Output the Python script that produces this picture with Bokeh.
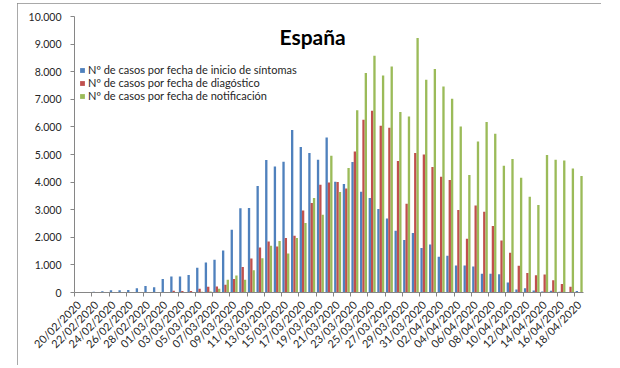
import math
from bokeh.plotting import figure
from bokeh.models import (ColumnDataSource, FixedTicker, Legend, LegendItem, Label, Range1d)
from bokeh.transform import dodge
from bokeh.embed import file_html
from bokeh.resources import INLINE

fechas = [
    "20/02/2020", "21/02/2020", "22/02/2020", "23/02/2020", "24/02/2020", "25/02/2020",
    "26/02/2020", "27/02/2020", "28/02/2020", "29/02/2020",
    "01/03/2020", "02/03/2020", "03/03/2020", "04/03/2020", "05/03/2020", "06/03/2020",
    "07/03/2020", "08/03/2020", "09/03/2020", "10/03/2020", "11/03/2020", "12/03/2020",
    "13/03/2020", "14/03/2020", "15/03/2020", "16/03/2020", "17/03/2020", "18/03/2020",
    "19/03/2020", "20/03/2020", "21/03/2020", "22/03/2020", "23/03/2020", "24/03/2020",
    "25/03/2020", "26/03/2020", "27/03/2020", "28/03/2020", "29/03/2020", "30/03/2020",
    "31/03/2020",
    "01/04/2020", "02/04/2020", "03/04/2020", "04/04/2020", "05/04/2020", "06/04/2020",
    "07/04/2020", "08/04/2020", "09/04/2020", "10/04/2020", "11/04/2020", "12/04/2020",
    "13/04/2020", "14/04/2020", "15/04/2020", "16/04/2020", "17/04/2020", "18/04/2020",
]

sintomas = [3, 10, 30, 45, 80, 80, 90, 150, 240, 190,
            485, 580, 580, 630, 895, 1087, 1190, 1520, 2272, 3050,
            3060, 3860, 4800, 4565, 4735, 5884, 5268, 5051, 4808, 5616,
            4011, 3928, 4724, 3649, 3420, 3022, 2681, 2240, 1898, 2152,
            1609, 1739, 1293, 1330, 978, 978, 942, 680, 680, 660,
            362, 110, 150, 72, 36, 60, 25, 15, 50]

diagnostico = [0, 0, 0, 0, 0, 0, 2, 3, 8, 5,
               5, 60, 50, 50, 134, 206, 218, 279, 485, 920,
               1232, 1630, 1845, 1667, 1971, 2054, 2971, 3239, 3902, 3986,
               4000, 3768, 5109, 6257, 6583, 6040, 5967, 4761, 3214, 5051,
               5000, 4543, 4192, 4072, 2986, 1946, 3150, 2930, 2406, 1884,
               1438, 967, 710, 625, 655, 440, 310, 207, 20]

notificacion = [0, 0, 0, 0, 0, 0, 0, 0, 0, 0,
                0, 5, 10, 10, 30, 40, 140, 465, 620, 465,
                810, 1240, 1692, 1868, 1414, 1976, 2514, 3420, 2815, 4953,
                3645, 4507, 6600, 7949, 8576, 7862, 8188, 6536, 6377, 9217,
                7707, 8094, 7464, 7018, 6015, 4260, 5471, 6174, 5750, 4591,
                4833, 4156, 3467, 3167, 4978, 4808, 4783, 4493, 4217]

series_names = ["Nº de casos por fecha de inicio de síntomas",
                "Nº de casos por fecha de diagóstico",
                "Nº de casos por fecha de notificación"]
colores = ["#4F81BD", "#C0504D", "#9BBB59"]

y_ticks = [0, 1000, 2000, 3000, 4000, 5000, 6000, 7000, 8000, 9000, 10000]
y_labels = ["0", "1.000", "2.000", "3.000", "4.000", "5.000", "6.000",
            "7.000", "8.000", "9.000", "10.000"]
titulo = "España"

n = len(fechas)
idx = list(range(n))
src = ColumnDataSource(dict(x=[i + 0.5 for i in idx], s=sintomas,
                            d=diagnostico, nt=notificacion))

p = figure(width=584, height=362, x_range=Range1d(0, n), y_range=Range1d(0, 10000),
           output_backend="svg", toolbar_location=None, title=None,
           min_border_left=57, min_border_right=18, min_border_top=13,
           min_border_bottom=73, background_fill_color="white",
           border_fill_color="white")
p.styles = {"margin-left": "17px", "margin-top": "3px",
            "outline": "1px solid #8c8c8c", "outline-offset": "-1px"}
p.grid.visible = False
p.outline_line_color = None

w = 0.27
renders = []
for off, col, c in [(-w, "s", colores[0]), (0, "d", colores[1]), (w, "nt", colores[2])]:
    r = p.vbar(x=dodge("x", off), top=col, width=w, source=src,
               fill_color=c, line_color=None)
    renders.append(r)

axis_color = "#868686"
text_color = "#262626"

xa = p.xaxis[0]
xa.ticker = FixedTicker(ticks=[i + 0.5 for i in idx[::2]],
                        minor_ticks=[float(i) for i in idx[::2]])
xa.major_label_overrides = {i + 0.5: fechas[i] for i in idx[::2]}
xa.major_tick_out = 0
xa.major_tick_in = 0
xa.minor_tick_out = 4
xa.minor_tick_in = 0
xa.major_label_orientation = math.pi / 4
xa.major_label_standoff = 6
xa.axis_line_color = axis_color
xa.minor_tick_line_color = axis_color
xa.major_label_text_font = "Lato"
xa.major_label_text_font_size = "11px"
xa.major_label_text_color = text_color

ya = p.yaxis[0]
ya.ticker = FixedTicker(ticks=y_ticks, minor_ticks=[])
ya.major_label_overrides = {t: l for t, l in zip(y_ticks, y_labels)}
ya.major_tick_out = 4
ya.major_tick_in = 0
ya.minor_tick_out = 0
ya.minor_tick_in = 0
ya.major_label_standoff = 9
ya.axis_line_color = axis_color
ya.major_tick_line_color = axis_color
ya.major_label_text_font = "Lato"
ya.major_label_text_font_size = "10.5px"
ya.major_label_text_color = text_color

legend = Legend(items=[LegendItem(label=series_names[i], renderers=[renders[i]]) for i in range(3)],
                location=(5, 190), orientation="vertical", glyph_width=6, glyph_height=6,
                label_standoff=3, label_height=13, spacing=0, padding=0, margin=0,
                border_line_color=None, background_fill_alpha=0,
                label_text_font="Lato", label_text_font_size="11px",
                label_text_color=text_color)
p.add_layout(legend)

p.add_layout(Label(x=27.6, y=9274, text=titulo,
                   text_font="Lato", text_font_style="bold", text_font_size="21px",
                   text_align="center", text_baseline="alphabetic", text_color="black"))

open("out.html", "w").write(file_html(p, INLINE))
